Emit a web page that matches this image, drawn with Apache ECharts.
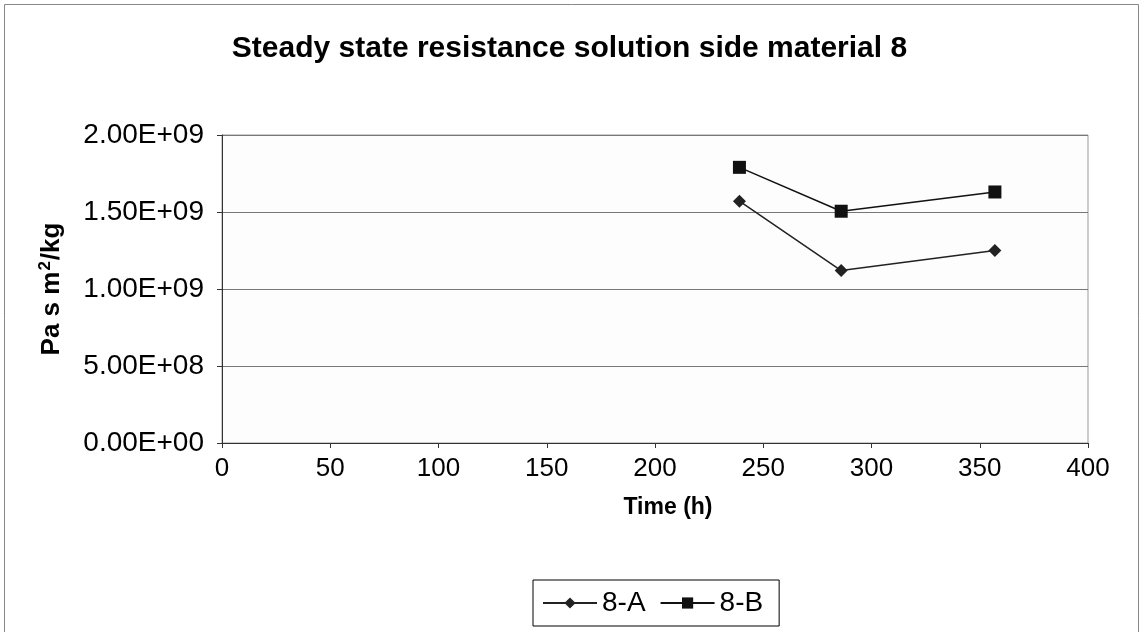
<!DOCTYPE html>
<html><head><meta charset="utf-8">
<script src="https://cdn.jsdelivr.net/npm/echarts@6/dist/echarts.min.js"></script>
<style>html,body{margin:0;padding:0;background:#fff}#c{width:1139px;height:632px}</style>
</head><body><div id="c"></div>
<script>
const seriesNames = ['8-A', '8-B'];
const timeA = [239, 286, 357];
const valuesA = [1.57e9, 1.12e9, 1.25e9];
const timeB = [239, 286, 357];
const valuesB = [1.79e9, 1.505e9, 1.63e9];
const xTicks = [0, 50, 100, 150, 200, 250, 300, 350, 400];
const yTicks = [0, 5e8, 1e9, 1.5e9, 2e9];

function sci(v) {
  if (v === 0) return '0.00E+00';
  const e = Math.floor(Math.log10(Math.abs(v)) + 1e-9);
  const m = v / Math.pow(10, e);
  const es = (e < 0 ? '-' : '+') + String(Math.abs(e)).padStart(2, '0');
  return m.toFixed(2) + 'E' + es;
}

const chart = echarts.init(document.getElementById('c'));
const font = 'Arial, "Liberation Sans", sans-serif';
chart.setOption({
  animation: false,
  backgroundColor: '#fff',
  graphic: [{
    type: 'rect', left: 2, top: 2, silent: true,
    shape: { width: 1134, height: 640 },
    style: { fill: 'none', stroke: '#888', lineWidth: 1 }
  }],
  title: {
    text: 'Steady state resistance solution side material 8',
    left: 'center', top: 29,
    textStyle: { fontFamily: font, fontSize: 30, fontWeight: 'bold', color: '#000' }
  },
  legend: {
    data: seriesNames,
    top: 580, left: 533,
    borderColor: '#000', borderWidth: 1, padding: [9, 16, 9, 9],
    itemWidth: 54, itemHeight: 14, itemGap: 14,
    textStyle: { fontFamily: font, fontSize: 28, color: '#000' }
  },
  grid: { left: 222, right: 51, top: 135, bottom: 189, show: true, borderColor: '#999', borderWidth: 1, backgroundColor: '#fdfdfd' },
  xAxis: {
    type: 'value', min: xTicks[0], max: xTicks[xTicks.length - 1], interval: 50,
    name: 'Time (h)', nameLocation: 'middle', nameGap: 53,
    nameTextStyle: { fontFamily: font, fontSize: 23, fontWeight: 'bold', color: '#000', padding: [0, 0, 0, 26] },
    axisLine: { lineStyle: { color: '#333', width: 1 } },
    axisTick: { show: true, inside: false, length: 5, lineStyle: { color: '#333' } },
    axisLabel: { fontFamily: font, fontSize: 26, color: '#000', margin: 13 },
    splitLine: { show: false }
  },
  yAxis: {
    type: 'value', min: yTicks[0], max: yTicks[yTicks.length - 1], interval: 5e8,
    name: '{a|Pa s m}{s|2}{a|/kg}', nameLocation: 'middle', nameGap: 156, nameRotate: 90,
    nameTextStyle: {
      fontFamily: font, fontSize: 26, fontWeight: 'bold', color: '#000',
      rich: {
        a: { fontFamily: font, fontSize: 26, fontWeight: 'bold', color: '#000' },
        s: { fontFamily: font, fontSize: 17, fontWeight: 'bold', color: '#000', verticalAlign: 'top', padding: [0, 1, 12, 1] }
      }
    },
    axisLine: { show: true, lineStyle: { color: '#333', width: 1 } },
    axisTick: { show: true, length: 5, lineStyle: { color: '#333' } },
    axisLabel: { fontFamily: font, fontSize: 28, color: '#000', margin: 18, formatter: sci },
    splitLine: { show: true, lineStyle: { color: '#777', width: 1 } }
  },
  series: [
    {
      name: seriesNames[0], type: 'line',
      data: timeA.map((t, i) => [t, valuesA[i]]),
      symbol: 'diamond', symbolSize: 13,
      itemStyle: { color: '#222' },
      lineStyle: { color: '#222', width: 1.5 }
    },
    {
      name: seriesNames[1], type: 'line',
      data: timeB.map((t, i) => [t, valuesB[i]]),
      symbol: 'rect', symbolSize: 13,
      itemStyle: { color: '#111' },
      lineStyle: { color: '#111', width: 1.5 }
    }
  ]
});
</script>
</body></html>
